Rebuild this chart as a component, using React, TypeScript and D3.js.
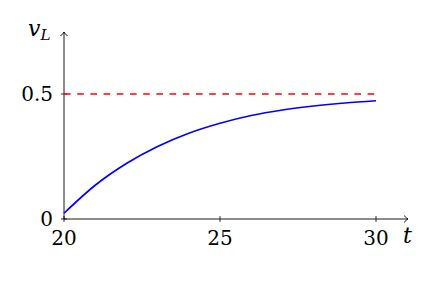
import { useEffect, useRef } from "react";
import * as d3 from "d3";

const tValues = [20, 21, 22, 23, 24, 25, 26, 27, 28, 29, 30];
const vValues = [0.023, 0.135, 0.222, 0.29, 0.343, 0.383, 0.414, 0.436, 0.452, 0.464, 0.473];
const steadyValue = 0.5;
const xTicks = [20, 25, 30];
const yTicks = [0, 0.5];

export default function App() {
  const ref = useRef<SVGSVGElement | null>(null);
  const width = 437;
  const height = 281;

  useEffect(() => {
    const svg = d3.select(ref.current);
    svg.selectAll("*").remove();

    const x = d3.scaleLinear().domain([20, 30]).range([64, 376]);
    const y = d3.scaleLinear().domain([0, 0.5]).range([219, 94]);
    const font = "DejaVu Serif, serif";
    const x0 = x(20);
    const y0 = y(0);
    const xEnd = 408;
    const yEnd = 32;

    // axes
    svg.append("line").attr("x1", x0).attr("y1", y0).attr("x2", xEnd).attr("y2", y0)
      .attr("stroke", "#000").attr("stroke-width", 0.9);
    svg.append("line").attr("x1", x0).attr("y1", y0).attr("x2", x0).attr("y2", yEnd)
      .attr("stroke", "#000").attr("stroke-width", 0.9);
    svg.append("path")
      .attr("d", `M${xEnd - 4},${y0 - 3.5} Q${xEnd - 1.5},${y0 - 0.8} ${xEnd},${y0} Q${xEnd - 1.5},${y0 + 0.8} ${xEnd - 4},${y0 + 3.5}`)
      .attr("fill", "none").attr("stroke", "#000").attr("stroke-width", 0.9);
    svg.append("path")
      .attr("d", `M${x0 - 3.5},${yEnd + 4} Q${x0 - 0.8},${yEnd + 1.5} ${x0},${yEnd} Q${x0 + 0.8},${yEnd + 1.5} ${x0 + 3.5},${yEnd + 4}`)
      .attr("fill", "none").attr("stroke", "#000").attr("stroke-width", 0.9);

    // ticks
    svg.selectAll(".xt").data(xTicks).enter().append("line")
      .attr("x1", (d) => x(d)).attr("x2", (d) => x(d))
      .attr("y1", y0 - 3).attr("y2", y0 + 3)
      .attr("stroke", "#000").attr("stroke-width", 0.8);
    svg.selectAll(".xl").data(xTicks).enter().append("text")
      .attr("x", (d) => x(d)).attr("y", 245)
      .attr("text-anchor", "middle")
      .attr("font-family", font).attr("font-size", 20)
      .text((d) => d);
    svg.selectAll(".yt").data(yTicks).enter().append("line")
      .attr("x1", x0 - 3).attr("x2", x0 + 3)
      .attr("y1", (d) => y(d)).attr("y2", (d) => y(d))
      .attr("stroke", "#000").attr("stroke-width", 0.8);
    svg.selectAll(".yl").data(yTicks).enter().append("text")
      .attr("x", 53).attr("y", (d) => y(d) + 7)
      .attr("text-anchor", "end")
      .attr("font-family", font).attr("font-size", 20)
      .text((d) => d);

    // axis labels
    svg.append("text").attr("x", 403).attr("y", 243)
      .attr("font-family", font).attr("font-size", 22).attr("font-style", "italic")
      .text("t");
    const vl = svg.append("text").attr("x", 28).attr("y", 36)
      .attr("font-family", font).attr("font-size", 22).attr("font-style", "italic");
    vl.append("tspan").text("v");
    vl.append("tspan").attr("font-size", 15).attr("dy", 4).text("L");

    // steady state
    svg.append("line")
      .attr("x1", x(20)).attr("x2", x(30))
      .attr("y1", y(steadyValue)).attr("y2", y(steadyValue))
      .attr("stroke", "#ff0000").attr("stroke-width", 1.6)
      .attr("stroke-dasharray", "6.6 6.6");

    // response curve
    const line = d3.line<number>()
      .x((d, i) => x(tValues[i]))
      .y((d) => y(d))
      .curve(d3.curveMonotoneX);
    svg.append("path")
      .attr("d", line(vValues))
      .attr("fill", "none")
      .attr("stroke", "#0000ff")
      .attr("stroke-width", 1.7);
  }, []);

  return (
    <svg
      ref={ref}
      width={width}
      height={height}
      style={{ position: "absolute", left: 0, top: 0, background: "#fff" }}
    ></svg>
  );
}
